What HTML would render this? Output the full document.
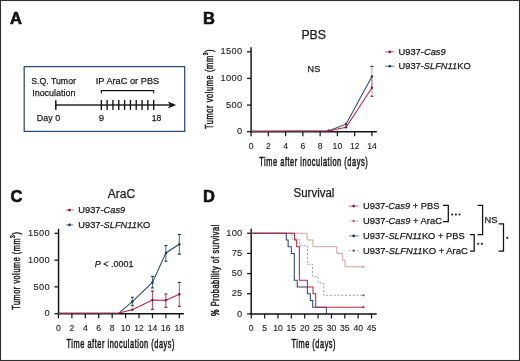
<!DOCTYPE html>
<html><head><meta charset="utf-8"><style>
html,body{margin:0;padding:0;background:#fff;width:520px;height:361px;overflow:hidden;}
svg{display:block;font-family:"Liberation Sans", sans-serif;will-change:transform;}
</style></head><body>
<svg width="520" height="361" viewBox="0 0 520 361">
<rect width="520" height="361" fill="#fff"/>
<rect x="0.5" y="0.5" width="519" height="360" fill="none" stroke="#303030" stroke-width="1.1"/>
<text x="9.90" y="23.80" font-size="16.5" text-anchor="start" font-weight="bold" fill="#111" stroke="#111" stroke-width="0.6" >A</text>
<text x="203.00" y="23.80" font-size="16.5" text-anchor="start" font-weight="bold" fill="#111" stroke="#111" stroke-width="0.6" >B</text>
<text x="10.50" y="201.90" font-size="16.5" text-anchor="start" font-weight="bold" fill="#111" stroke="#111" stroke-width="0.6" >C</text>
<text x="203.00" y="201.90" font-size="16.5" text-anchor="start" font-weight="bold" fill="#111" stroke="#111" stroke-width="0.6" >D</text>
<rect x="24.2" y="66.6" width="160.5" height="64.8" fill="none" stroke="#2c4877" stroke-width="1.25"/>
<text x="31.30" y="84.10" font-size="9.5" text-anchor="start" textLength="44.60" lengthAdjust="spacingAndGlyphs" fill="#1a1a1a" stroke="#1a1a1a" stroke-width="0.25" >S.Q. Tumor</text>
<text x="32.20" y="95.90" font-size="9.5" text-anchor="start" textLength="43.20" lengthAdjust="spacingAndGlyphs" fill="#1a1a1a" stroke="#1a1a1a" stroke-width="0.25" >Inoculation</text>
<text x="36.80" y="120.70" font-size="9.5" text-anchor="start" textLength="23.30" lengthAdjust="spacingAndGlyphs" fill="#1a1a1a" stroke="#1a1a1a" stroke-width="0.25" >Day 0</text>
<text x="95.80" y="84.30" font-size="9.5" text-anchor="start" textLength="63.40" lengthAdjust="spacingAndGlyphs" fill="#1a1a1a" stroke="#1a1a1a" stroke-width="0.25" >IP AraC or PBS</text>
<text x="101.50" y="120.70" font-size="9.5" text-anchor="middle" fill="#1a1a1a" stroke="#1a1a1a" stroke-width="0.25" >9</text>
<text x="156.50" y="120.60" font-size="9.5" text-anchor="middle" textLength="9.60" lengthAdjust="spacingAndGlyphs" fill="#1a1a1a" stroke="#1a1a1a" stroke-width="0.25" >18</text>
<polyline points="101.3,93.4 101.3,90.6 153.7,90.6 153.7,93.4" fill="none" stroke="#151515" stroke-width="1.05"/>
<line x1="55.80" y1="105.00" x2="170.50" y2="105.00" stroke="#262626" stroke-width="1.55" />
<line x1="55.80" y1="100.20" x2="55.80" y2="109.80" stroke="#111" stroke-width="1.5" />
<line x1="101.30" y1="100.00" x2="101.30" y2="109.90" stroke="#111" stroke-width="1.35" />
<line x1="107.12" y1="100.00" x2="107.12" y2="109.90" stroke="#111" stroke-width="1.35" />
<line x1="112.94" y1="100.00" x2="112.94" y2="109.90" stroke="#111" stroke-width="1.35" />
<line x1="118.77" y1="100.00" x2="118.77" y2="109.90" stroke="#111" stroke-width="1.35" />
<line x1="124.59" y1="100.00" x2="124.59" y2="109.90" stroke="#111" stroke-width="1.35" />
<line x1="130.41" y1="100.00" x2="130.41" y2="109.90" stroke="#111" stroke-width="1.35" />
<line x1="136.23" y1="100.00" x2="136.23" y2="109.90" stroke="#111" stroke-width="1.35" />
<line x1="142.06" y1="100.00" x2="142.06" y2="109.90" stroke="#111" stroke-width="1.35" />
<line x1="147.88" y1="100.00" x2="147.88" y2="109.90" stroke="#111" stroke-width="1.35" />
<line x1="153.70" y1="100.00" x2="153.70" y2="109.90" stroke="#111" stroke-width="1.35" />
<polygon points="176.2,105.0 167.8,101.4 170.0,105.0 167.8,108.6" fill="#151515"/>
<text x="301.40" y="39.10" font-size="12" text-anchor="start" textLength="24.60" lengthAdjust="spacingAndGlyphs" fill="#1a1a1a" stroke="#1a1a1a" stroke-width="0.25" >PBS</text>
<text x="307.60" y="71.50" font-size="9.5" text-anchor="start" textLength="12.60" lengthAdjust="spacingAndGlyphs" fill="#1a1a1a" stroke="#1a1a1a" stroke-width="0.25" >NS</text>
<line x1="251.10" y1="47.29" x2="251.10" y2="132.40" stroke="#111" stroke-width="1.45" />
<line x1="247.00" y1="131.70" x2="251.10" y2="131.70" stroke="#111" stroke-width="1.25" />
<text x="242.40" y="134.30" font-size="9.3" text-anchor="end" style="letter-spacing:0.3px" fill="#1a1a1a" stroke="#1a1a1a" stroke-width="0.1" >0</text>
<line x1="247.00" y1="105.06" x2="251.10" y2="105.06" stroke="#111" stroke-width="1.25" />
<text x="242.40" y="107.66" font-size="9.3" text-anchor="end" style="letter-spacing:0.3px" fill="#1a1a1a" stroke="#1a1a1a" stroke-width="0.1" >500</text>
<line x1="247.00" y1="78.43" x2="251.10" y2="78.43" stroke="#111" stroke-width="1.25" />
<text x="242.40" y="81.03" font-size="9.3" text-anchor="end" style="letter-spacing:0.3px" fill="#1a1a1a" stroke="#1a1a1a" stroke-width="0.1" >1000</text>
<line x1="247.00" y1="51.79" x2="251.10" y2="51.79" stroke="#111" stroke-width="1.25" />
<text x="242.40" y="54.39" font-size="9.3" text-anchor="end" style="letter-spacing:0.3px" fill="#1a1a1a" stroke="#1a1a1a" stroke-width="0.1" >1500</text>
<line x1="250.40" y1="131.70" x2="376.80" y2="131.70" stroke="#111" stroke-width="1.45" />
<line x1="251.10" y1="131.70" x2="251.10" y2="136.30" stroke="#111" stroke-width="1.2" />
<text x="251.10" y="149.00" font-size="8.6" text-anchor="middle" fill="#1a1a1a" stroke="#1a1a1a" stroke-width="0.12" >0</text>
<line x1="268.36" y1="131.70" x2="268.36" y2="136.30" stroke="#111" stroke-width="1.2" />
<text x="268.36" y="149.00" font-size="8.6" text-anchor="middle" fill="#1a1a1a" stroke="#1a1a1a" stroke-width="0.12" >2</text>
<line x1="285.62" y1="131.70" x2="285.62" y2="136.30" stroke="#111" stroke-width="1.2" />
<text x="285.62" y="149.00" font-size="8.6" text-anchor="middle" fill="#1a1a1a" stroke="#1a1a1a" stroke-width="0.12" >4</text>
<line x1="302.88" y1="131.70" x2="302.88" y2="136.30" stroke="#111" stroke-width="1.2" />
<text x="302.88" y="149.00" font-size="8.6" text-anchor="middle" fill="#1a1a1a" stroke="#1a1a1a" stroke-width="0.12" >6</text>
<line x1="320.14" y1="131.70" x2="320.14" y2="136.30" stroke="#111" stroke-width="1.2" />
<text x="320.14" y="149.00" font-size="8.6" text-anchor="middle" fill="#1a1a1a" stroke="#1a1a1a" stroke-width="0.12" >8</text>
<line x1="337.40" y1="131.70" x2="337.40" y2="136.30" stroke="#111" stroke-width="1.2" />
<text x="337.40" y="149.00" font-size="8.6" text-anchor="middle" fill="#1a1a1a" stroke="#1a1a1a" stroke-width="0.12" >10</text>
<line x1="354.66" y1="131.70" x2="354.66" y2="136.30" stroke="#111" stroke-width="1.2" />
<text x="354.66" y="149.00" font-size="8.6" text-anchor="middle" fill="#1a1a1a" stroke="#1a1a1a" stroke-width="0.12" >12</text>
<line x1="371.92" y1="131.70" x2="371.92" y2="136.30" stroke="#111" stroke-width="1.2" />
<text x="371.92" y="149.00" font-size="8.6" text-anchor="middle" fill="#1a1a1a" stroke="#1a1a1a" stroke-width="0.12" >14</text>
<line x1="371.92" y1="66.34" x2="371.92" y2="86.58" stroke="#28496e" stroke-width="0.8" opacity="0.6"/>
<line x1="370.42" y1="66.34" x2="373.42" y2="66.34" stroke="#1a3045" stroke-width="1.1" />
<line x1="371.92" y1="79.23" x2="371.92" y2="96.28" stroke="#b8253f" stroke-width="0.8" opacity="0.6"/>
<line x1="370.42" y1="96.28" x2="373.42" y2="96.28" stroke="#7a1530" stroke-width="1.1" />
<polyline points="251.10,131.17 328.77,130.74 346.03,124.19 371.92,76.46" fill="none" stroke="#28496e" stroke-width="1.05" stroke-linejoin="miter" />
<polyline points="251.10,131.17 328.77,130.95 346.03,127.28 371.92,87.75" fill="none" stroke="#b8253f" stroke-width="1.05" stroke-linejoin="miter" />
<circle cx="328.77" cy="130.74" r="1.2" fill="#1a3045"/>
<circle cx="346.03" cy="124.19" r="1.2" fill="#1a3045"/>
<circle cx="371.92" cy="76.46" r="1.2" fill="#1a3045"/>
<circle cx="328.77" cy="130.95" r="1.2" fill="#7a1530"/>
<circle cx="346.03" cy="127.28" r="1.2" fill="#7a1530"/>
<circle cx="371.92" cy="87.75" r="1.2" fill="#7a1530"/>
<line x1="384.80" y1="51.90" x2="394.50" y2="51.90" stroke="#b8253f" stroke-width="0.9" opacity="0.8"/>
<circle cx="389.80" cy="51.90" r="1.3" fill="#7a1530"/>
<line x1="384.80" y1="66.20" x2="394.50" y2="66.20" stroke="#28496e" stroke-width="0.9" opacity="0.8"/>
<circle cx="389.80" cy="66.20" r="1.3" fill="#1a3045"/>
<text x="398.50" y="54.70" font-size="9.5" text-anchor="start" textLength="47.20" lengthAdjust="spacingAndGlyphs" fill="#1a1a1a" stroke="#1a1a1a" stroke-width="0.25" >U937-<tspan font-style="italic">Cas9</tspan></text>
<text x="398.50" y="69.10" font-size="9.5" text-anchor="start" textLength="72.20" lengthAdjust="spacingAndGlyphs" fill="#1a1a1a" stroke="#1a1a1a" stroke-width="0.25" >U937-<tspan font-style="italic">SLFN11</tspan>KO</text>
<text x="0" y="0" font-size="11" style="letter-spacing:0.9px" fill="#1a1a1a" stroke="#1a1a1a" stroke-width="0.497" transform="translate(212.50,129.10) rotate(-90) scale(0.6757,1)">Tumor volume (mm<tspan font-size="7.5" dy="-4.5">3</tspan><tspan dy="4.5">)</tspan></text>
<text x="0" y="0" font-size="12" style="letter-spacing:0.9px" fill="#1a1a1a" stroke="#1a1a1a" stroke-width="0.546" transform="translate(259.30,165.80) scale(0.6153,1)">Time after inoculation (days)</text>
<text x="107.80" y="198.10" font-size="12" text-anchor="start" textLength="27.40" lengthAdjust="spacingAndGlyphs" fill="#1a1a1a" stroke="#1a1a1a" stroke-width="0.25" >AraC</text>
<line x1="58.55" y1="228.84" x2="58.55" y2="314.40" stroke="#111" stroke-width="1.45" />
<line x1="54.45" y1="313.70" x2="58.55" y2="313.70" stroke="#111" stroke-width="1.25" />
<text x="49.90" y="316.30" font-size="9.3" text-anchor="end" style="letter-spacing:0.3px" fill="#1a1a1a" stroke="#1a1a1a" stroke-width="0.1" >0</text>
<line x1="54.45" y1="286.91" x2="58.55" y2="286.91" stroke="#111" stroke-width="1.25" />
<text x="49.90" y="289.51" font-size="9.3" text-anchor="end" style="letter-spacing:0.3px" fill="#1a1a1a" stroke="#1a1a1a" stroke-width="0.1" >500</text>
<line x1="54.45" y1="260.13" x2="58.55" y2="260.13" stroke="#111" stroke-width="1.25" />
<text x="49.90" y="262.73" font-size="9.3" text-anchor="end" style="letter-spacing:0.3px" fill="#1a1a1a" stroke="#1a1a1a" stroke-width="0.1" >1000</text>
<line x1="54.45" y1="233.34" x2="58.55" y2="233.34" stroke="#111" stroke-width="1.25" />
<text x="49.90" y="235.94" font-size="9.3" text-anchor="end" style="letter-spacing:0.3px" fill="#1a1a1a" stroke="#1a1a1a" stroke-width="0.1" >1500</text>
<line x1="57.85" y1="313.70" x2="183.90" y2="313.70" stroke="#111" stroke-width="1.45" />
<line x1="58.45" y1="313.70" x2="58.45" y2="318.30" stroke="#111" stroke-width="1.2" />
<text x="58.45" y="330.60" font-size="8.6" text-anchor="middle" fill="#1a1a1a" stroke="#1a1a1a" stroke-width="0.12" >0</text>
<line x1="71.88" y1="313.70" x2="71.88" y2="318.30" stroke="#111" stroke-width="1.2" />
<text x="71.88" y="330.60" font-size="8.6" text-anchor="middle" fill="#1a1a1a" stroke="#1a1a1a" stroke-width="0.12" >2</text>
<line x1="85.31" y1="313.70" x2="85.31" y2="318.30" stroke="#111" stroke-width="1.2" />
<text x="85.31" y="330.60" font-size="8.6" text-anchor="middle" fill="#1a1a1a" stroke="#1a1a1a" stroke-width="0.12" >4</text>
<line x1="98.74" y1="313.70" x2="98.74" y2="318.30" stroke="#111" stroke-width="1.2" />
<text x="98.74" y="330.60" font-size="8.6" text-anchor="middle" fill="#1a1a1a" stroke="#1a1a1a" stroke-width="0.12" >6</text>
<line x1="112.17" y1="313.70" x2="112.17" y2="318.30" stroke="#111" stroke-width="1.2" />
<text x="112.17" y="330.60" font-size="8.6" text-anchor="middle" fill="#1a1a1a" stroke="#1a1a1a" stroke-width="0.12" >8</text>
<line x1="125.60" y1="313.70" x2="125.60" y2="318.30" stroke="#111" stroke-width="1.2" />
<text x="125.60" y="330.60" font-size="8.6" text-anchor="middle" fill="#1a1a1a" stroke="#1a1a1a" stroke-width="0.12" >10</text>
<line x1="139.03" y1="313.70" x2="139.03" y2="318.30" stroke="#111" stroke-width="1.2" />
<text x="139.03" y="330.60" font-size="8.6" text-anchor="middle" fill="#1a1a1a" stroke="#1a1a1a" stroke-width="0.12" >12</text>
<line x1="152.46" y1="313.70" x2="152.46" y2="318.30" stroke="#111" stroke-width="1.2" />
<text x="152.46" y="330.60" font-size="8.6" text-anchor="middle" fill="#1a1a1a" stroke="#1a1a1a" stroke-width="0.12" >14</text>
<line x1="165.89" y1="313.70" x2="165.89" y2="318.30" stroke="#111" stroke-width="1.2" />
<text x="165.89" y="330.60" font-size="8.6" text-anchor="middle" fill="#1a1a1a" stroke="#1a1a1a" stroke-width="0.12" >16</text>
<line x1="179.32" y1="313.70" x2="179.32" y2="318.30" stroke="#111" stroke-width="1.2" />
<text x="179.32" y="330.60" font-size="8.6" text-anchor="middle" fill="#1a1a1a" stroke="#1a1a1a" stroke-width="0.12" >18</text>
<line x1="132.31" y1="297.30" x2="132.31" y2="305.80" stroke="#28496e" stroke-width="0.85" />
<line x1="130.81" y1="297.30" x2="133.81" y2="297.30" stroke="#1a3045" stroke-width="1.1" />
<line x1="130.81" y1="305.80" x2="133.81" y2="305.80" stroke="#1a3045" stroke-width="1.1" />
<line x1="152.46" y1="276.40" x2="152.46" y2="287.90" stroke="#28496e" stroke-width="0.85" />
<line x1="150.96" y1="276.40" x2="153.96" y2="276.40" stroke="#1a3045" stroke-width="1.1" />
<line x1="150.96" y1="287.90" x2="153.96" y2="287.90" stroke="#1a3045" stroke-width="1.1" />
<line x1="165.89" y1="245.50" x2="165.89" y2="261.20" stroke="#28496e" stroke-width="0.85" />
<line x1="164.39" y1="245.50" x2="167.39" y2="245.50" stroke="#1a3045" stroke-width="1.1" />
<line x1="164.39" y1="261.20" x2="167.39" y2="261.20" stroke="#1a3045" stroke-width="1.1" />
<line x1="179.32" y1="234.50" x2="179.32" y2="254.20" stroke="#28496e" stroke-width="0.85" />
<line x1="177.82" y1="234.50" x2="180.82" y2="234.50" stroke="#1a3045" stroke-width="1.1" />
<line x1="177.82" y1="254.20" x2="180.82" y2="254.20" stroke="#1a3045" stroke-width="1.1" />
<line x1="152.46" y1="291.00" x2="152.46" y2="309.30" stroke="#b8253f" stroke-width="0.85" />
<line x1="150.96" y1="291.00" x2="153.96" y2="291.00" stroke="#7a1530" stroke-width="1.1" />
<line x1="150.96" y1="309.30" x2="153.96" y2="309.30" stroke="#7a1530" stroke-width="1.1" />
<line x1="165.89" y1="294.00" x2="165.89" y2="307.30" stroke="#b8253f" stroke-width="0.85" />
<line x1="164.39" y1="294.00" x2="167.39" y2="294.00" stroke="#7a1530" stroke-width="1.1" />
<line x1="164.39" y1="307.30" x2="167.39" y2="307.30" stroke="#7a1530" stroke-width="1.1" />
<line x1="179.32" y1="282.40" x2="179.32" y2="306.30" stroke="#b8253f" stroke-width="0.85" />
<line x1="177.82" y1="282.40" x2="180.82" y2="282.40" stroke="#7a1530" stroke-width="1.1" />
<line x1="177.82" y1="306.30" x2="180.82" y2="306.30" stroke="#7a1530" stroke-width="1.1" />
<polyline points="58.45,313.16 118.89,313.06 132.31,301.59 152.46,282.42 165.89,252.95 179.32,244.22" fill="none" stroke="#28496e" stroke-width="1.05" stroke-linejoin="miter" />
<polyline points="58.45,313.16 118.89,313.06 132.31,309.79 152.46,299.99 165.89,300.31 179.32,294.31" fill="none" stroke="#b8253f" stroke-width="1.05" stroke-linejoin="miter" />
<circle cx="132.31" cy="301.59" r="1.2" fill="#1a3045"/>
<circle cx="152.46" cy="282.42" r="1.2" fill="#1a3045"/>
<circle cx="165.89" cy="252.95" r="1.2" fill="#1a3045"/>
<circle cx="179.32" cy="244.22" r="1.2" fill="#1a3045"/>
<circle cx="132.31" cy="309.79" r="1.2" fill="#7a1530"/>
<circle cx="152.46" cy="299.99" r="1.2" fill="#7a1530"/>
<circle cx="165.89" cy="300.31" r="1.2" fill="#7a1530"/>
<circle cx="179.32" cy="294.31" r="1.2" fill="#7a1530"/>
<line x1="65.80" y1="210.10" x2="73.20" y2="210.10" stroke="#b8253f" stroke-width="0.9" opacity="0.8"/>
<circle cx="69.50" cy="210.10" r="1.3" fill="#7a1530"/>
<line x1="65.80" y1="224.90" x2="73.20" y2="224.90" stroke="#28496e" stroke-width="0.9" opacity="0.8"/>
<circle cx="69.50" cy="224.90" r="1.3" fill="#1a3045"/>
<text x="78.30" y="213.40" font-size="9.5" text-anchor="start" textLength="47.00" lengthAdjust="spacingAndGlyphs" fill="#1a1a1a" stroke="#1a1a1a" stroke-width="0.25" >U937-<tspan font-style="italic">Cas9</tspan></text>
<text x="78.30" y="228.10" font-size="9.5" text-anchor="start" textLength="72.00" lengthAdjust="spacingAndGlyphs" fill="#1a1a1a" stroke="#1a1a1a" stroke-width="0.25" >U937-<tspan font-style="italic">SLFN11</tspan>KO</text>
<text x="94.80" y="266.70" font-size="9.5" text-anchor="start" textLength="38.60" lengthAdjust="spacingAndGlyphs" fill="#1a1a1a" stroke="#1a1a1a" stroke-width="0.25" ><tspan font-style="italic">P</tspan> &lt; .0001</text>
<text x="0" y="0" font-size="11" style="letter-spacing:0.9px" fill="#1a1a1a" stroke="#1a1a1a" stroke-width="0.510" transform="translate(19.70,309.80) rotate(-90) scale(0.6588,1)">Tumor volume (mm<tspan font-size="7.5" dy="-4.5">3</tspan><tspan dy="4.5">)</tspan></text>
<text x="0" y="0" font-size="12" style="letter-spacing:0.9px" fill="#1a1a1a" stroke="#1a1a1a" stroke-width="0.548" transform="translate(66.60,347.80) scale(0.6131,1)">Time after inoculation (days)</text>
<text x="293.60" y="197.20" font-size="12" text-anchor="start" textLength="40.80" lengthAdjust="spacingAndGlyphs" fill="#1a1a1a" stroke="#1a1a1a" stroke-width="0.25" >Survival</text>
<line x1="251.20" y1="228.75" x2="251.20" y2="314.60" stroke="#111" stroke-width="1.45" />
<line x1="247.10" y1="313.90" x2="251.20" y2="313.90" stroke="#111" stroke-width="1.25" />
<text x="242.60" y="316.50" font-size="9.3" text-anchor="end" style="letter-spacing:0.3px" fill="#1a1a1a" stroke="#1a1a1a" stroke-width="0.1" >0</text>
<line x1="247.10" y1="293.74" x2="251.20" y2="293.74" stroke="#111" stroke-width="1.25" />
<text x="242.60" y="296.34" font-size="9.3" text-anchor="end" style="letter-spacing:0.3px" fill="#1a1a1a" stroke="#1a1a1a" stroke-width="0.1" >25</text>
<line x1="247.10" y1="273.57" x2="251.20" y2="273.57" stroke="#111" stroke-width="1.25" />
<text x="242.60" y="276.18" font-size="9.3" text-anchor="end" style="letter-spacing:0.3px" fill="#1a1a1a" stroke="#1a1a1a" stroke-width="0.1" >50</text>
<line x1="247.10" y1="253.41" x2="251.20" y2="253.41" stroke="#111" stroke-width="1.25" />
<text x="242.60" y="256.01" font-size="9.3" text-anchor="end" style="letter-spacing:0.3px" fill="#1a1a1a" stroke="#1a1a1a" stroke-width="0.1" >75</text>
<line x1="247.10" y1="233.25" x2="251.20" y2="233.25" stroke="#111" stroke-width="1.25" />
<text x="242.60" y="235.85" font-size="9.3" text-anchor="end" style="letter-spacing:0.3px" fill="#1a1a1a" stroke="#1a1a1a" stroke-width="0.1" >100</text>
<line x1="250.50" y1="313.90" x2="376.70" y2="313.90" stroke="#111" stroke-width="1.45" />
<line x1="251.25" y1="313.90" x2="251.25" y2="318.50" stroke="#111" stroke-width="1.2" />
<text x="251.25" y="330.60" font-size="8.6" text-anchor="middle" fill="#1a1a1a" stroke="#1a1a1a" stroke-width="0.12" >0</text>
<line x1="264.62" y1="313.90" x2="264.62" y2="318.50" stroke="#111" stroke-width="1.2" />
<text x="264.62" y="330.60" font-size="8.6" text-anchor="middle" fill="#1a1a1a" stroke="#1a1a1a" stroke-width="0.12" >5</text>
<line x1="277.98" y1="313.90" x2="277.98" y2="318.50" stroke="#111" stroke-width="1.2" />
<text x="277.98" y="330.60" font-size="8.6" text-anchor="middle" fill="#1a1a1a" stroke="#1a1a1a" stroke-width="0.12" >10</text>
<line x1="291.35" y1="313.90" x2="291.35" y2="318.50" stroke="#111" stroke-width="1.2" />
<text x="291.35" y="330.60" font-size="8.6" text-anchor="middle" fill="#1a1a1a" stroke="#1a1a1a" stroke-width="0.12" >15</text>
<line x1="304.71" y1="313.90" x2="304.71" y2="318.50" stroke="#111" stroke-width="1.2" />
<text x="304.71" y="330.60" font-size="8.6" text-anchor="middle" fill="#1a1a1a" stroke="#1a1a1a" stroke-width="0.12" >20</text>
<line x1="318.07" y1="313.90" x2="318.07" y2="318.50" stroke="#111" stroke-width="1.2" />
<text x="318.07" y="330.60" font-size="8.6" text-anchor="middle" fill="#1a1a1a" stroke="#1a1a1a" stroke-width="0.12" >25</text>
<line x1="331.44" y1="313.90" x2="331.44" y2="318.50" stroke="#111" stroke-width="1.2" />
<text x="331.44" y="330.60" font-size="8.6" text-anchor="middle" fill="#1a1a1a" stroke="#1a1a1a" stroke-width="0.12" >30</text>
<line x1="344.81" y1="313.90" x2="344.81" y2="318.50" stroke="#111" stroke-width="1.2" />
<text x="344.81" y="330.60" font-size="8.6" text-anchor="middle" fill="#1a1a1a" stroke="#1a1a1a" stroke-width="0.12" >35</text>
<line x1="358.17" y1="313.90" x2="358.17" y2="318.50" stroke="#111" stroke-width="1.2" />
<text x="358.17" y="330.60" font-size="8.6" text-anchor="middle" fill="#1a1a1a" stroke="#1a1a1a" stroke-width="0.12" >40</text>
<line x1="371.53" y1="313.90" x2="371.53" y2="318.50" stroke="#111" stroke-width="1.2" />
<text x="371.53" y="330.60" font-size="8.6" text-anchor="middle" fill="#1a1a1a" stroke="#1a1a1a" stroke-width="0.12" >45</text>
<polyline points="251.25,233.25 307.12,233.25 307.12,239.97 313.00,239.97 313.00,246.69 336.79,246.69 336.79,253.41 342.67,253.41 342.67,260.13 345.07,260.13 345.07,266.85 363.52,266.85" fill="none" stroke="#cf9c9c" stroke-width="0.95" stroke-linejoin="miter" />
<polyline points="251.25,233.25 292.15,233.25 292.15,239.45 299.36,239.45 299.36,245.66 307.52,245.66 307.52,264.27 312.46,264.27 312.46,276.68 318.07,276.68 318.07,282.88 323.69,282.88 323.69,295.29 363.52,295.29" fill="none" stroke="#a0a4b4" stroke-width="1.0" stroke-linejoin="miter" stroke-dasharray="2.2,1.6"/>
<polyline points="251.25,233.25 286.27,233.25 286.27,239.97 288.14,239.97 288.14,246.69 291.35,246.69 291.35,253.41 294.29,253.41 294.29,280.30 297.23,280.30 297.23,287.02 307.38,287.02 307.38,293.74 310.32,293.74 310.32,300.46 312.73,300.46 312.73,307.18 326.36,307.18 326.36,313.90" fill="none" stroke="#28496e" stroke-width="1.05" stroke-linejoin="miter" />
<polyline points="251.25,233.25 294.55,233.25 294.55,239.97 296.69,239.97 296.69,246.69 299.36,246.69 299.36,280.30 307.38,280.30 307.38,287.02 313.00,287.02 313.00,293.74 315.67,293.74 315.67,307.18 363.52,307.18" fill="none" stroke="#b8253f" stroke-width="1.05" stroke-linejoin="miter" />
<circle cx="363.52" cy="266.85" r="1.1" fill="#cf9c9c"/>
<circle cx="363.52" cy="295.29" r="1.1" fill="#555"/>
<circle cx="363.52" cy="307.18" r="1.1" fill="#b8253f"/>
<line x1="348.90" y1="206.10" x2="358.60" y2="206.10" stroke="#b8253f" stroke-width="0.9" opacity="0.8"/>
<circle cx="353.70" cy="206.10" r="1.3" fill="#7a1530"/>
<line x1="348.90" y1="221.00" x2="358.60" y2="221.00" stroke="#cf9c9c" stroke-width="0.9" opacity="0.8"/>
<circle cx="353.70" cy="221.00" r="1.3" fill="#a07070"/>
<line x1="348.90" y1="235.90" x2="358.60" y2="235.90" stroke="#28496e" stroke-width="0.9" opacity="0.8"/>
<circle cx="353.70" cy="235.90" r="1.3" fill="#1a3045"/>
<line x1="348.90" y1="250.60" x2="358.60" y2="250.60" stroke="#a0a4b4" stroke-width="1.0" stroke-dasharray="1.6,2.4"/>
<circle cx="353.70" cy="250.60" r="1.2" fill="#555"/>
<text x="363.00" y="209.30" font-size="9.5" text-anchor="start" textLength="76.40" lengthAdjust="spacingAndGlyphs" fill="#1a1a1a" stroke="#1a1a1a" stroke-width="0.25" >U937-<tspan font-style="italic">Cas9</tspan> + PBS</text>
<text x="363.00" y="224.20" font-size="9.5" text-anchor="start" textLength="78.90" lengthAdjust="spacingAndGlyphs" fill="#1a1a1a" stroke="#1a1a1a" stroke-width="0.25" >U937-<tspan font-style="italic">Cas9</tspan> + AraC</text>
<text x="363.00" y="239.10" font-size="9.5" text-anchor="start" textLength="101.60" lengthAdjust="spacingAndGlyphs" fill="#1a1a1a" stroke="#1a1a1a" stroke-width="0.25" >U937-<tspan font-style="italic">SLFN11</tspan>KO + PBS</text>
<text x="363.00" y="253.80" font-size="9.5" text-anchor="start" textLength="104.70" lengthAdjust="spacingAndGlyphs" fill="#1a1a1a" stroke="#1a1a1a" stroke-width="0.25" >U937-<tspan font-style="italic">SLFN11</tspan>KO + AraC</text>
<polyline points="443.0,205.3 448.3,205.3 448.3,221.6 443.0,221.6" fill="none" stroke="#111" stroke-width="1.25"/>
<polyline points="470.0,234.6 474.2,234.6 474.2,251.1 470.0,251.1" fill="none" stroke="#111" stroke-width="1.25"/>
<polyline points="477.6,205.3 482.6,205.3 482.6,234.6 477.6,234.6" fill="none" stroke="#111" stroke-width="1.25"/>
<polyline points="498.6,223.8 503.5,223.8 503.5,251.1 498.6,251.1" fill="none" stroke="#111" stroke-width="1.25"/>
<circle cx="452.20" cy="214.50" r="1.05" fill="#1a1a1a"/>
<circle cx="455.85" cy="214.50" r="1.05" fill="#1a1a1a"/>
<circle cx="459.50" cy="214.50" r="1.05" fill="#1a1a1a"/>
<circle cx="478.20" cy="243.80" r="1.05" fill="#1a1a1a"/>
<circle cx="481.90" cy="243.80" r="1.05" fill="#1a1a1a"/>
<circle cx="507.30" cy="237.90" r="1.05" fill="#1a1a1a"/>
<text x="484.60" y="223.20" font-size="9.5" text-anchor="start" textLength="12.80" lengthAdjust="spacingAndGlyphs" fill="#1a1a1a" stroke="#1a1a1a" stroke-width="0.25" >NS</text>
<text x="0" y="0" font-size="10.4" style="letter-spacing:0.8px" fill="#1a1a1a" stroke="#1a1a1a" stroke-width="0.477" transform="translate(218.70,315.90) rotate(-90) scale(0.7042,1)">% Probability of survival</text>
<text x="0" y="0" font-size="12" style="letter-spacing:0.9px" fill="#1a1a1a" stroke="#1a1a1a" stroke-width="0.548" transform="translate(291.50,348.40) scale(0.6134,1)">Time (days)</text>
</svg>
</body></html>
